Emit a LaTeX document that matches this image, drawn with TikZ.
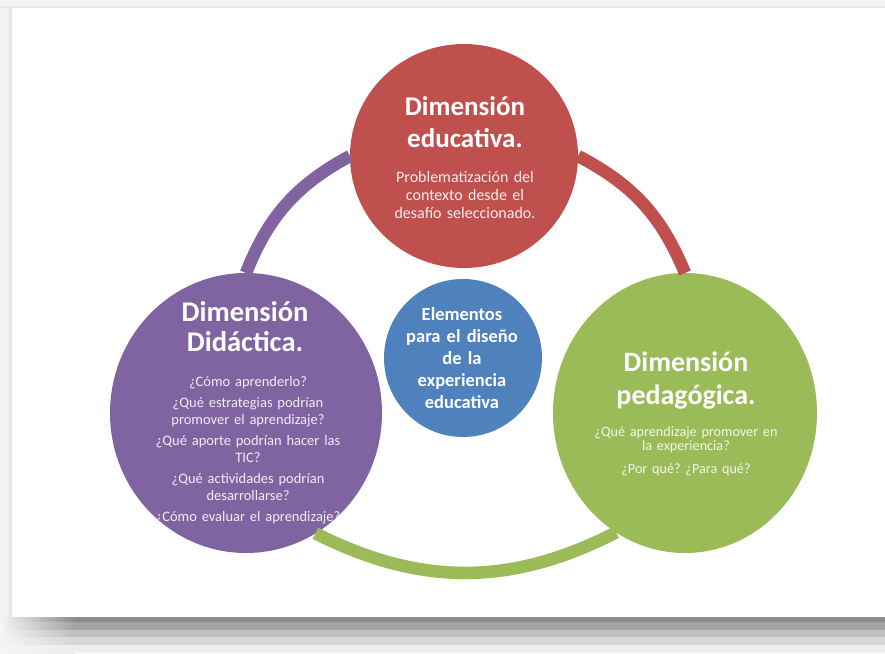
\documentclass[tikz,border=0pt]{standalone}
\usepackage{fontspec}
\setmainfont{Carlito}
\frenchspacing
\usetikzlibrary{shapes.geometric,positioning}
\definecolor{dimred}{HTML}{C0504D}
\definecolor{dimpurple}{HTML}{8064A2}
\definecolor{dimgreen}{HTML}{9BBB59}
\definecolor{dimblue}{HTML}{4F81BD}
\newcommand{\tightlines}{\lineskiplimit=-20pt\relax}
\tikzset{
	dimcircle/.style={ellipse,inner sep=0,outer sep=0,fill=#1},
	dimtitle/.style={text=white,align=center,text width=240pt,inner sep=0},
	dimbody/.style={text=white!88!#1,align=center,text width=240pt,inner sep=0},
	ring/.style={line width=12.5pt,draw=#1},
}
\begin{document}
\begin{tikzpicture}[x=1pt,y=1pt]
	% page and shadow
	\fill[black!5] (0,0) rectangle (885,653);
	\fill[black!10] (0,645) rectangle (885,647);
	\fill[black!10] (9,36) rectangle (12,647);
	\foreach \ya/\yb/\shd in {31/36/45,23/31/36,16/23/25,8/16/16,0/8/7}{
		\shade[left color=black!4,right color=black!\shd] (0,\ya) rectangle (75,\yb);
		\fill[black!\shd] (75,\ya) rectangle (885,\yb);
	}
	\fill[white] (12,36) rectangle (885,645);
	% Circles
	\node[dimcircle=dimred,minimum width=228pt,minimum height=224pt] (red) at (464,497) {};
	\node[dimcircle=dimpurple,minimum width=272pt,minimum height=280pt] (purple) at (246,240) {};
	\node[dimcircle=dimgreen,minimum width=264pt,minimum height=280pt] (green) at (685,240) {};
	\node[dimcircle=dimblue,minimum width=158pt,minimum height=158pt] (blue) at (463,295) {};
	% Arcs
	\draw[ring=dimpurple] (purple.north) to[bend left=20] (red.west);
	\draw[ring=dimred] (red.east) to[bend left=20] (green.north);
	\draw[ring=dimgreen] (green.-120) to[bend left=27] (purple.-60);
	% Texts
	\node[dimtitle,font=\bfseries\fontsize{27}{32}\selectfont] (redtitle) at (465,531)
		{Dimensión\\educativa.};
	\node[dimbody=dimred,font=\fontsize{16}{18.3}\selectfont] (redbody) at (465,458)
		{Problematización del\\contexto desde el\\desafío seleccionado.};
	\node[dimtitle,font=\bfseries\fontsize{28.5}{30}\selectfont\tightlines] (purpletitle) at (245,326)
		{Dimensión\\Didáctica.};
	\node[dimbody=dimpurple,font=\fontsize{14.5}{16.5}\selectfont\tightlines] (purplebody) at (248,203)
		{¿Cómo aprenderlo?\\[5pt]¿Qué estrategias podrían\\promover el aprendizaje?\\[5pt]¿Qué aporte podrían hacer las\\TIC?\\[5pt]¿Qué actividades podrían\\desarrollarse?\\[5pt]¿Cómo evaluar el aprendizaje?};
	\node[dimtitle,font=\bfseries\fontsize{28}{33}\selectfont] (greentitle) at (686,272)
		{Dimensión\\pedagógica.};
	\node[dimbody=dimgreen,font=\fontsize{14.2}{14.5}\selectfont\tightlines] (greenbody) at (686,202)
		{¿Qué aprendizaje promover en\\la experiencia?\\[8pt]¿Por qué? ¿Para qué?};
	\node[dimtitle,font=\bfseries\fontsize{18.5}{22}\selectfont\tightlines] (bluetext) at (462,295)
		{Elementos\\para el diseño\\de la\\experiencia\\educativa};
\end{tikzpicture}
\end{document}
